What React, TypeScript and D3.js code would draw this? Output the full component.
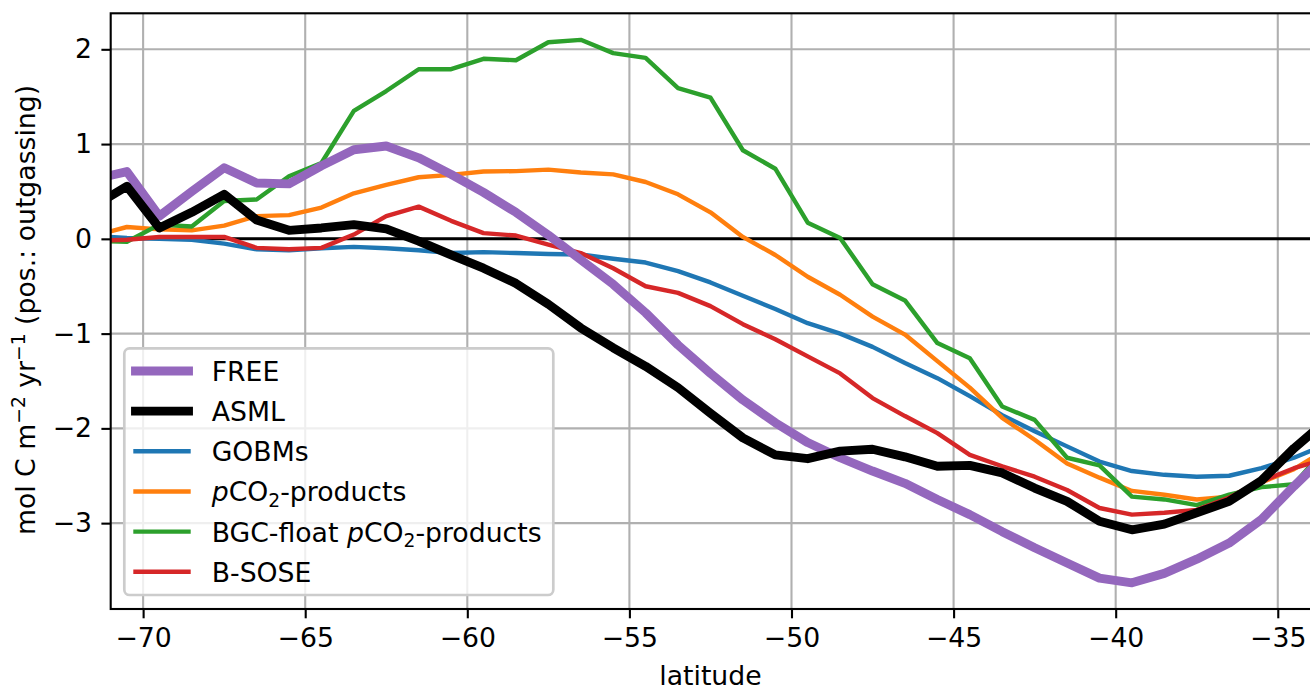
import React, { useEffect, useRef } from 'react';
import * as d3 from 'd3';

// latitude bands (centre of each 1 degree band)
const latitude = [
  -71.5, -70.5, -69.5, -68.5, -67.5, -66.5, -65.5, -64.5, -63.5, -62.5,
  -61.5, -60.5, -59.5, -58.5, -57.5, -56.5, -55.5, -54.5, -53.5, -52.5,
  -51.5, -50.5, -49.5, -48.5, -47.5, -46.5, -45.5, -44.5, -43.5, -42.5,
  -41.5, -40.5, -39.5, -38.5, -37.5, -36.5, -35.5, -34.5, -33.5,
];

// air-sea CO2 flux, mol C m-2 yr-1
const free = [
  0.63, 0.71, 0.24, 0.50, 0.75, 0.59, 0.58, 0.77, 0.94, 0.98,
  0.855, 0.68, 0.49, 0.28, 0.04, -0.22, -0.48, -0.78, -1.12, -1.42,
  -1.70, -1.94, -2.15, -2.31, -2.45, -2.58, -2.75, -2.91, -3.09, -3.26,
  -3.42, -3.58, -3.63, -3.53, -3.38, -3.21, -2.96, -2.61, -2.28,
];
const asml = [
  0.35, 0.555, 0.115, 0.28, 0.47, 0.20, 0.09, 0.115, 0.15, 0.105,
  -0.025, -0.17, -0.31, -0.47, -0.69, -0.94, -1.15, -1.345, -1.57, -1.84,
  -2.10, -2.28, -2.32, -2.24, -2.22, -2.30, -2.40, -2.39, -2.47, -2.63,
  -2.77, -2.98, -3.07, -3.01, -2.89, -2.77, -2.55, -2.21, -1.92,
];
const gobms = [
  0.03, 0.01, 0.0, -0.01, -0.05, -0.11, -0.12, -0.10, -0.085, -0.10,
  -0.12, -0.15, -0.14, -0.15, -0.16, -0.165, -0.21, -0.25, -0.34, -0.46,
  -0.60, -0.74, -0.89, -1.0, -1.14, -1.31, -1.47, -1.66, -1.86, -2.03,
  -2.19, -2.35, -2.45, -2.49, -2.51, -2.50, -2.42, -2.31, -2.17,
];
const pco2Products = [
  0.035, 0.125, 0.10, 0.09, 0.14, 0.24, 0.25, 0.33, 0.48, 0.57,
  0.65, 0.675, 0.71, 0.715, 0.73, 0.70, 0.68, 0.60, 0.47, 0.28,
  0.02, -0.17, -0.40, -0.59, -0.82, -1.01, -1.29, -1.57, -1.89, -2.12,
  -2.37, -2.52, -2.66, -2.70, -2.75, -2.72, -2.57, -2.43, -2.22,
];
const bgcFloat = [
  -0.02, -0.03, 0.15, 0.13, 0.40, 0.415, 0.66, 0.80, 1.35, 1.56,
  1.79, 1.79, 1.90, 1.885, 2.075, 2.10, 1.96, 1.91, 1.59, 1.49,
  0.935, 0.74, 0.17, 0.01, -0.48, -0.65, -1.10, -1.26, -1.77, -1.91,
  -2.31, -2.39, -2.72, -2.75, -2.81, -2.70, -2.62, -2.59, -2.20,
];
const bsose = [
  -0.02, -0.01, 0.02, 0.02, 0.02, -0.095, -0.11, -0.095, 0.045, 0.24,
  0.34, 0.19, 0.06, 0.035, -0.06, -0.15, -0.31, -0.50, -0.57, -0.71,
  -0.90, -1.06, -1.24, -1.42, -1.68, -1.87, -2.05, -2.28, -2.40, -2.51,
  -2.65, -2.84, -2.91, -2.89, -2.86, -2.73, -2.56, -2.42, -2.32,
];

const xTicks = [-70, -65, -60, -55, -50, -45, -40, -35];
const yTicks = [-3, -2, -1, 0, 1, 2];

const W = 1310;
const H = 690;
const FONT = 'DejaVu Sans';
const FS = 26.7;

type Series = { name: string; values: number[]; color: string; width: number };

// legend order
const legendSeries: Series[] = [
  { name: 'FREE', values: free, color: '#9467bd', width: 8.9 },
  { name: 'ASML', values: asml, color: '#000000', width: 8.9 },
  { name: 'GOBMs', values: gobms, color: '#1f77b4', width: 4.4 },
  { name: 'pCO2-products', values: pco2Products, color: '#ff7f0e', width: 4.4 },
  { name: 'BGC-float pCO2-products', values: bgcFloat, color: '#2ca02c', width: 4.4 },
  { name: 'B-SOSE', values: bsose, color: '#d62728', width: 4.4 },
];

const App = () => {
  const ref = useRef<SVGSVGElement>(null);

  useEffect(() => {
    const svg = d3.select(ref.current);
    svg.selectAll('*').remove();

    const left = 110.7, right = 1310.2, top = 13.3, bottom = 609;

    const x = d3.scaleLinear().domain([-71, -34]).range([left, right]);
    const y = d3.scaleLinear().domain([-3.906, 2.38]).range([bottom, top]);

    svg.append('defs').append('clipPath').attr('id', 'plotclip')
      .append('rect')
      .attr('x', left).attr('y', top)
      .attr('width', right - left).attr('height', bottom - top);

    // grid
    const grid = svg.append('g');
    grid.selectAll('.vg').data(xTicks).enter().append('line')
      .attr('x1', (d) => x(d)).attr('x2', (d) => x(d))
      .attr('y1', top).attr('y2', bottom)
      .attr('stroke', '#b0b0b0').attr('stroke-width', 2.1);
    grid.selectAll('.hg').data(yTicks).enter().append('line')
      .attr('x1', left).attr('x2', right)
      .attr('y1', (d) => y(d)).attr('y2', (d) => y(d))
      .attr('stroke', '#b0b0b0').attr('stroke-width', 2.1);

    const fmt = (d: d3.NumberValue) => String(d).replace('-', '\u2212');

    // axes
    const xAxis = svg.append('g')
      .attr('transform', `translate(0,${bottom})`)
      .call(d3.axisBottom(x).tickValues(xTicks).tickSize(9.3).tickPadding(9.3).tickFormat(fmt));
    const yAxis = svg.append('g')
      .attr('transform', `translate(${left},0)`)
      .call(d3.axisLeft(y).tickValues(yTicks).tickSize(9.3).tickPadding(9.3).tickFormat(fmt));
    [xAxis, yAxis].forEach((a) => {
      a.select('.domain').remove();
      a.selectAll('line').attr('stroke', '#000').attr('stroke-width', 2.1);
      a.selectAll('text').attr('font-family', FONT).attr('font-size', FS).attr('fill', '#000');
    });

    const plot = svg.append('g').attr('clip-path', 'url(#plotclip)');

    // zero line
    plot.append('line')
      .attr('x1', left).attr('x2', right)
      .attr('y1', y(0)).attr('y2', y(0))
      .attr('stroke', '#000').attr('stroke-width', 3);

    const line = d3.line<number>()
      .x((d, i) => x(latitude[i]))
      .y((d) => y(d));

    // thin lines first, then the two thick model runs on top
    const drawOrder = [2, 3, 4, 5, 0, 1];
    drawOrder.forEach((k) => {
      const s = legendSeries[k];
      plot.append('path')
        .datum(s.values)
        .attr('d', line)
        .attr('fill', 'none')
        .attr('stroke', s.color)
        .attr('stroke-width', s.width)
        .attr('stroke-linejoin', 'round')
        .attr('stroke-linecap', 'square');
    });

    // frame
    svg.append('rect')
      .attr('x', left).attr('y', top)
      .attr('width', right - left + 2).attr('height', bottom - top)
      .attr('fill', 'none').attr('stroke', '#000').attr('stroke-width', 2.1);

    // legend
    const lg = svg.append('g');
    lg.append('rect')
      .attr('x', 124.3).attr('y', 348.3)
      .attr('width', 429).attr('height', 246.7)
      .attr('rx', 5.3).attr('ry', 5.3)
      .attr('fill', '#fff').attr('fill-opacity', 0.8)
      .attr('stroke', '#cccccc').attr('stroke-width', 2.67);

    legendSeries.forEach((s, i) => {
      const ry = 371 + i * 40.15;
      lg.append('line')
        .attr('x1', 135.5).attr('x2', 188.5)
        .attr('y1', ry).attr('y2', ry)
        .attr('stroke', s.color).attr('stroke-width', s.width)
        .attr('stroke-linecap', 'square');
      const t = lg.append('text')
        .attr('x', 211.7).attr('y', ry + 10)
        .attr('font-family', FONT).attr('font-size', FS).attr('fill', '#000');
      const m = s.name.match(/^(.*?)pCO2(.*)$/);
      if (m) {
        if (m[1]) t.append('tspan').text(m[1]);
        t.append('tspan').attr('font-style', 'italic').text('p');
        t.append('tspan').text('CO');
        t.append('tspan').attr('font-size', FS * 0.7).attr('dy', 5.5).text('2');
        t.append('tspan').attr('dy', -5.5).text(m[2]);
      } else {
        t.text(s.name);
      }
    });

    // axis labels
    svg.append('text')
      .attr('x', (left + right) / 2).attr('y', 685)
      .attr('text-anchor', 'middle')
      .attr('font-family', FONT).attr('font-size', FS)
      .text('latitude');

    const yl = svg.append('text')
      .attr('transform', 'translate(35,310) rotate(-90)')
      .attr('text-anchor', 'middle')
      .attr('font-family', FONT).attr('font-size', FS);
    yl.append('tspan').text('mol C m');
    yl.append('tspan').attr('font-size', FS * 0.7).attr('dy', -10).text('\u22122');
    yl.append('tspan').attr('dy', 10).text(' yr');
    yl.append('tspan').attr('font-size', FS * 0.7).attr('dy', -10).text('\u22121');
    yl.append('tspan').attr('dy', 10).text(' (pos.: outgassing)');
  }, []);

  return (
    <svg
      ref={ref}
      width={W}
      height={H}
      style={{ position: 'absolute', left: 0, top: 0, background: '#fff' }}
    />
  );
};

export default App;
